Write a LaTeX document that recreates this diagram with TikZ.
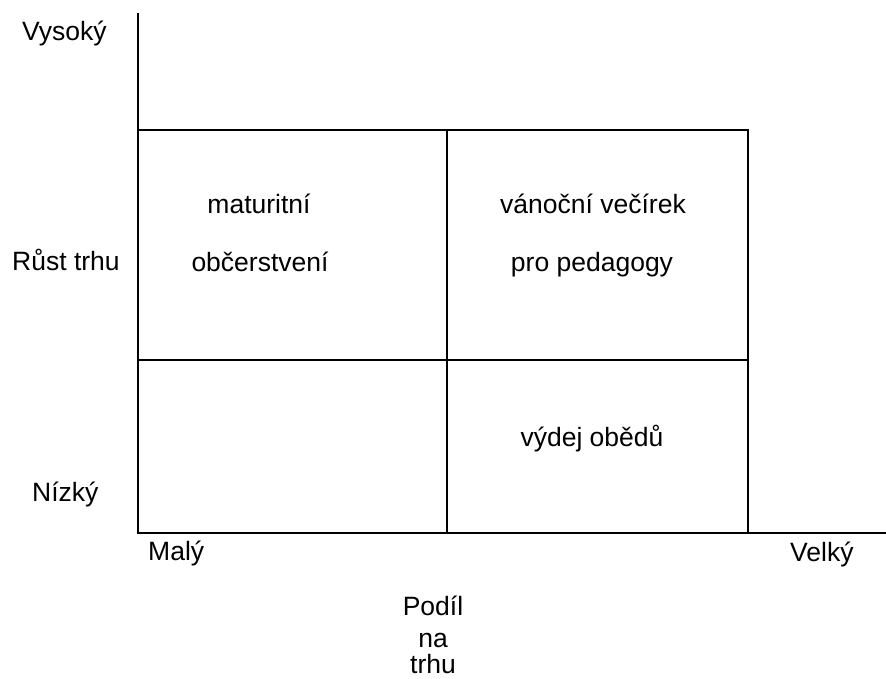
\documentclass[tikz,border=0pt]{standalone}
\usepackage{fontspec}
\setmainfont{Liberation Sans}
\begin{document}
\begin{tikzpicture}[x=1pt,y=-1pt,
  gridline/.style={line width=2.3pt,line cap=rect},
  lbl/.style={inner sep=0pt,font=\fontsize{26.5}{30}\selectfont},
  lblw/.style={lbl,anchor=base west},
  lblc/.style={lbl,anchor=base}]
\useasboundingbox (0,0) rectangle (886,679);
% axes and matrix corners
\coordinate (axtop) at (138,14);
\coordinate (origin) at (138,533);
\coordinate (axend) at (886,533);
\coordinate (tl) at (138,130);
\coordinate (tm) at (447,130);
\coordinate (tr) at (748,130);
\coordinate (ml) at (138,360);
\coordinate (mr) at (748,360);
\coordinate (bm) at (447,533);
\coordinate (br) at (748,533);
% axes
\draw[gridline] (axtop) -- (origin) -- (axend);
% four-field matrix
\draw[gridline] (tl) -- (tr) -- (br);
\draw[gridline] (tm) -- (bm);
\draw[gridline] (ml) -- (mr);
% vertical axis labels
\node[lblw] (vys) at (22,41) {Vysoký};
\node[lblw] (rust) at (12,270) {Růst trhu};
\node[lblw] (niz) at (32,501) {Nízký};
% field contents
\node[lblc] (mat1) at (259,214) {maturitní};
\node[lblc] (mat2) at (260,271) {občerstvení};
\node[lblc] (van1) at (593,214) {vánoční večírek};
\node[lblc] (van2) at (592,271) {pro pedagogy};
\node[lblc] (obed) at (592,446) {výdej obědů};
% horizontal axis labels
\node[lblw] (maly) at (148,560) {Malý};
\node[lblw] (velky) at (790,561) {Velký};
\node[lblc] (pod1) at (433,615) {Podíl};
\node[lblc] (pod2) at (433,647) {na};
\node[lblc] (pod3) at (433,673) {trhu};
\end{tikzpicture}
\end{document}
